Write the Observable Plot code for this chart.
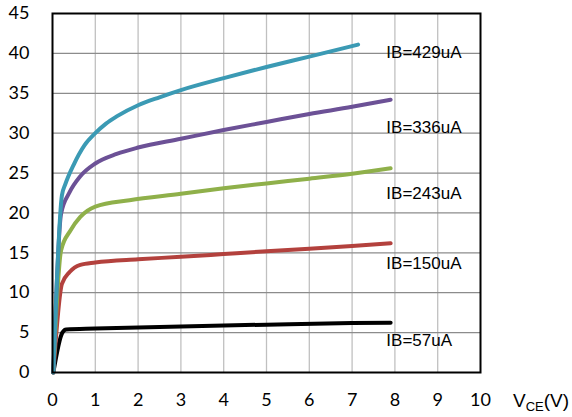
<!DOCTYPE html>
<html><head><meta charset="utf-8">
<script src="https://cdn.jsdelivr.net/npm/d3@7"></script>
<script src="https://cdn.jsdelivr.net/npm/@observablehq/plot@0.6"></script>
<style>body{margin:0;background:#fff}</style>
</head><body><div id="chart"></div>
<script>
const xTicks = [0,1,2,3,4,5,6,7,8,9,10];
const yTicks = [0,5,10,15,20,25,30,35,40,45];
const seriesNames = ["IB=57uA","IB=150uA","IB=243uA","IB=336uA","IB=429uA"];
const seriesColors = ["#000000","#b3413d","#8fb04a","#6c5196","#3b9ab4"];

const vce57  = [0.02,0.23,0.32,1,2.5,5,7,7.9];
const ic57   = [0,5.0,5.4,5.5,5.7,6.0,6.2,6.25];
const vce150 = [0.02,0.22,0.4,0.65,1,2,3,4,5,6,7,7.9];
const ic150  = [0,11.1,12.6,13.5,13.8,14.2,14.5,14.85,15.2,15.5,15.85,16.2];
const vce243 = [0.02,0.2,0.42,0.65,1,1.8,3,4,5,6,7,7.9];
const ic243  = [0,15.3,17.8,19.5,20.8,21.6,22.4,23.1,23.7,24.3,24.9,25.6];
const vce336 = [0.02,0.2,0.4,0.65,1,1.5,2,3,4,5,6,7,7.9];
const ic336  = [0,19.9,22.6,24.6,26.2,27.4,28.2,29.3,30.4,31.4,32.4,33.3,34.2];
const vce429 = [0.02,0.22,0.3,0.5,0.75,1,1.25,1.5,2,2.5,3,4,5,6,7.14];
const ic429  = [0,22.2,23.6,26.1,28.5,30.0,31.2,32.1,33.5,34.5,35.4,36.9,38.3,39.6,41.1];

const labelX = [7.8,7.8,7.8,7.8,7.8];
const labelY = [4.0,13.7,22.4,30.7,40.1];

const vceAll = [vce57,vce150,vce243,vce336,vce429];
const icAll = [ic57,ic150,ic243,ic336,ic429];
const rows = [];
seriesNames.forEach((s,i)=>vceAll[i].forEach((v,j)=>rows.push({series:s,vce:v,ic:icAll[i][j]})));
const labels = seriesNames.map((s,i)=>({series:s,x:labelX[i],y:labelY[i]}));

const chart = Plot.plot({
  width:572, height:417,
  marginLeft:52, marginRight:92, marginTop:13, marginBottom:45,
  style:{fontFamily:"Lato", fontSize:"18px", background:"#fff", color:"#000"},
  x:{domain:[0,10]},
  y:{domain:[0,45]},
  color:{domain:seriesNames, range:seriesColors},
  marks:[
    Plot.ruleX(xTicks.slice(1,-1),{stroke:"#c0c0c0",strokeWidth:1.3}),
    Plot.ruleY(yTicks.slice(1,-1),{stroke:"#8c8c8c",strokeWidth:1.3}),
    Plot.line(rows,{x:"vce",y:"ic",z:"series",stroke:"series",strokeWidth:4,curve:"monotone-x",strokeLinejoin:"round",strokeLinecap:"round"}),
    Plot.text(labels,{x:"x",y:"y",text:"series",textAnchor:"start",fontFamily:"Liberation Sans",fontSize:17,fill:"#000"}),
    Plot.frame({stroke:"#000",strokeWidth:2}),
    Plot.axisX({ticks:xTicks,tickSize:0,tickPadding:21,label:null,tickFormat:d=>String(d)}),
    Plot.axisY({ticks:yTicks,tickSize:0,tickPadding:23,label:null,tickFormat:d=>String(d)})
  ]
});
document.getElementById("chart").appendChild(chart);
const svg = d3.select(chart);
const t = svg.append("text").attr("x",513).attr("y",407).attr("text-anchor","start")
  .attr("font-family","Liberation Sans").attr("font-size",19).attr("fill","#000");
t.append("tspan").text("V");
t.append("tspan").attr("font-size",13).attr("dy",4).text("CE");
t.append("tspan").attr("dy",-4).text("(V)");
</script>
</body></html>
